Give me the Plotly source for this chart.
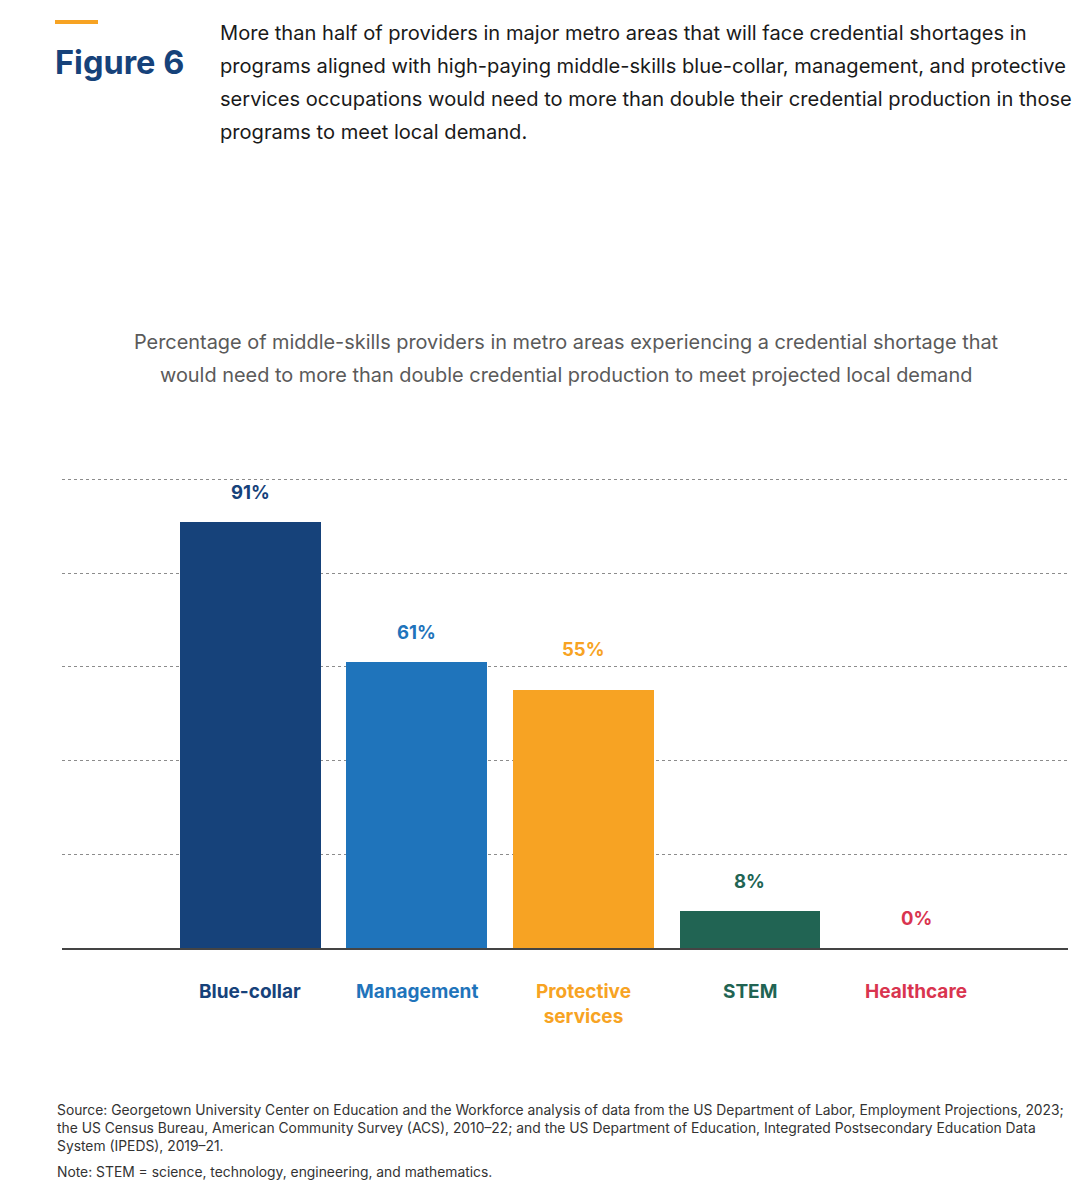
import plotly.graph_objects as go

# ============================================================================
# DATA
# ============================================================================

categories = ["Blue-collar", "Management", "Protective services", "STEM", "Healthcare"]
category_labels = ["Blue-collar", "Management", "Protective<br>services", "STEM", "Healthcare"]
shares = [91, 61, 55, 8, 0]
bar_colors = ["#16427A", "#1F74BB", "#F7A323", "#216453", "#D9344F"]
grid_vals = [20, 40, 60, 80, 100]

headline_lines = [
    "More than half of providers in major metro areas that will face credential shortages in",
    "programs aligned with high-paying middle-skills blue-collar, management, and protective",
    "services occupations would need to more than double their credential production in those",
    "programs to meet local demand.",
]
subtitle_lines = [
    "Percentage of middle-skills providers in metro areas experiencing a credential shortage that",
    "would need to more than double credential production to meet projected local demand",
]
source_lines = [
    "Source: Georgetown University Center on Education and the Workforce analysis of data from the US Department of Labor, Employment Projections, 2023;",
    "the US Census Bureau, American Community Survey (ACS), 2010\u201322; and the US Department of Education, Integrated Postsecondary Education Data",
    "System (IPEDS), 2019\u201321.",
]
note_line = "Note: STEM = science, technology, engineering, and mathematics."

# ============================================================================
# LAYOUT HELPERS (reference pixel -> paper); page body has an 8px margin
# ============================================================================

OFF = 8
W, H = 1088 - OFF, 1200 - OFF
M_L, M_R, M_T, M_B = 62 - OFF, 20, 478 - OFF, 252
PLOT_W = W - M_L - M_R
PLOT_H = H - M_T - M_B
FONT = "Inter"


def px_x(p):
    return (p - OFF - M_L) / PLOT_W


def px_y(p):
    return (H - M_B - (p - OFF)) / PLOT_H


x_pos = list(range(len(categories)))
label_shift = {2: 41}  # 55% label sits higher to clear the gridline

fig = go.Figure()

fig.add_trace(go.Bar(
    x=x_pos,
    y=shares,
    marker=dict(color=bar_colors, line=dict(width=0)),
    width=0.845,
    hoverinfo="skip",
))

annotations = []

# value labels above bars
for xi, v, c in zip(x_pos, shares, bar_colors):
    annotations.append(dict(
        x=xi, y=v, xref="x", yref="y",
        text=f"<b>{v}%</b>", showarrow=False,
        yanchor="middle", yshift=label_shift.get(xi, 30),
        font=dict(family=FONT, size=18.5, color=c),
    ))

# category labels below axis
for xi, lab, c in zip(x_pos, category_labels, bar_colors):
    annotations.append(dict(
        x=xi, y=0, xref="x", yref="y",
        text=f"<b>{lab}</b>", showarrow=False,
        yanchor="top", yshift=-30,
        font=dict(family=FONT, size=19, color=c),
    ))

# figure tag
annotations.append(dict(
    x=px_x(53), y=px_y(62), xref="paper", yref="paper",
    text="<b>Figure 6</b>", showarrow=False,
    xanchor="left", yanchor="middle",
    font=dict(family=FONT, size=32.5, color="#16427A"),
))

# headline
for i, line in enumerate(headline_lines):
    annotations.append(dict(
        x=px_x(218), y=px_y(33 + 33 * i), xref="paper", yref="paper",
        text=line, showarrow=False,
        xanchor="left", yanchor="middle",
        font=dict(family=FONT, size=20.1, color="#1a1a1a"),
    ))

# chart subtitle
for i, line in enumerate(subtitle_lines):
    annotations.append(dict(
        x=px_x(566), y=px_y(342 + 33 * i), xref="paper", yref="paper",
        text=line, showarrow=False,
        xanchor="center", yanchor="middle",
        font=dict(family=FONT, size=19.9, color="#5a5a5a"),
    ))

# source + note
for i, line in enumerate(source_lines):
    annotations.append(dict(
        x=px_x(55), y=px_y(1110 + 18 * i), xref="paper", yref="paper",
        text=line, showarrow=False,
        xanchor="left", yanchor="middle",
        font=dict(family=FONT, size=13.85, color="#333333"),
    ))
annotations.append(dict(
    x=px_x(55), y=px_y(1172), xref="paper", yref="paper",
    text=note_line, showarrow=False,
    xanchor="left", yanchor="middle",
    font=dict(family=FONT, size=13.85, color="#333333"),
))

fig.update_layout(
    width=W,
    height=H,
    margin=dict(l=M_L, r=M_R, t=M_T, b=M_B),
    paper_bgcolor="white",
    plot_bgcolor="white",
    showlegend=False,
    bargap=0,
    annotations=annotations,
    shapes=[dict(
        type="line", xref="paper", yref="paper",
        x0=px_x(55), x1=px_x(98), y0=px_y(22), y1=px_y(22),
        line=dict(color="#F7A323", width=4),
    )],
    xaxis=dict(
        range=[-1.13, 4.91],
        showgrid=False,
        showticklabels=False,
        zeroline=False,
        showline=True,
        linecolor="#444444",
        linewidth=1.5,
        ticks="",
        fixedrange=True,
    ),
    yaxis=dict(
        range=[0, 100.3],
        tickvals=grid_vals,
        showticklabels=False,
        showgrid=True,
        gridcolor="#8c8c8c",
        gridwidth=1,
        griddash="3px,3px",
        zeroline=False,
        showline=False,
        ticks="",
        fixedrange=True,
    ),
)

fig.write_html("out.html")
